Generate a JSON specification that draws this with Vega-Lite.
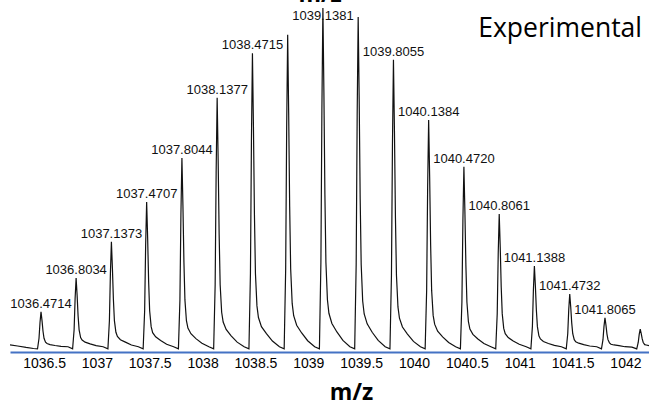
{
  "$schema": "https://vega.github.io/schema/vega-lite/v6.json",
  "width": 639,
  "height": 352,
  "autosize": {"type": "none"},
  "padding": {"left": 10, "top": 0, "right": 0, "bottom": 58},
  "background": "white",
  "config": {"view": {"stroke": null}},
  "datasets": {
    "spectrum": [
      {"mz": 1036.178, "i": 2.0}, {"mz": 1036.25, "i": 1.7}, {"mz": 1036.33, "i": 1.3}, {"mz": 1036.40, "i": 1.0},
      {"mz": 1036.4383, "i": 0.9}, {"mz": 1036.4525, "i": 3.9}, {"mz": 1036.4619, "i": 8.4}, {"mz": 1036.4714, "i": 11.4}, {"mz": 1036.4809, "i": 8.9}, {"mz": 1036.4903, "i": 5.9}, {"mz": 1036.4998, "i": 3.9}, {"mz": 1036.514, "i": 2.8}, {"mz": 1036.5282, "i": 2.4}, {"mz": 1036.5565, "i": 2.1}, {"mz": 1036.6038, "i": 1.85}, {"mz": 1036.6606, "i": 1.6}, {"mz": 1036.7268, "i": 1.5},
      {"mz": 1036.7703, "i": 0.9}, {"mz": 1036.7845, "i": 6.3}, {"mz": 1036.7939, "i": 15.1}, {"mz": 1036.8034, "i": 21.0}, {"mz": 1036.8129, "i": 16.1}, {"mz": 1036.8223, "i": 10.2}, {"mz": 1036.8318, "i": 6.3}, {"mz": 1036.846, "i": 4.1}, {"mz": 1036.8602, "i": 3.4}, {"mz": 1036.8885, "i": 2.8}, {"mz": 1036.9358, "i": 2.3}, {"mz": 1036.9926, "i": 1.8}, {"mz": 1037.0588, "i": 1.5},
      {"mz": 1037.1042, "i": 0.9}, {"mz": 1037.1184, "i": 8.9}, {"mz": 1037.1278, "i": 22.3}, {"mz": 1037.1373, "i": 31.3}, {"mz": 1037.1468, "i": 23.8}, {"mz": 1037.1562, "i": 14.9}, {"mz": 1037.1657, "i": 8.9}, {"mz": 1037.1799, "i": 5.6}, {"mz": 1037.1941, "i": 4.4}, {"mz": 1037.2224, "i": 3.5}, {"mz": 1037.2697, "i": 2.8}, {"mz": 1037.3265, "i": 2.0}, {"mz": 1037.3927, "i": 1.5},
      {"mz": 1037.4376, "i": 0.9}, {"mz": 1037.4518, "i": 11.7}, {"mz": 1037.4612, "i": 30.2}, {"mz": 1037.4707, "i": 42.6}, {"mz": 1037.4802, "i": 32.3}, {"mz": 1037.4896, "i": 19.9}, {"mz": 1037.4991, "i": 11.7}, {"mz": 1037.5133, "i": 7.2}, {"mz": 1037.5275, "i": 5.5}, {"mz": 1037.5558, "i": 4.3}, {"mz": 1037.6031, "i": 3.3}, {"mz": 1037.6599, "i": 2.2}, {"mz": 1037.7261, "i": 1.5},
      {"mz": 1037.7713, "i": 0.9}, {"mz": 1037.7855, "i": 14.8}, {"mz": 1037.7949, "i": 39.0}, {"mz": 1037.8044, "i": 55.1}, {"mz": 1037.8139, "i": 41.7}, {"mz": 1037.8233, "i": 25.6}, {"mz": 1037.8328, "i": 14.8}, {"mz": 1037.847, "i": 8.9}, {"mz": 1037.8612, "i": 6.8}, {"mz": 1037.8895, "i": 5.2}, {"mz": 1037.9368, "i": 3.8}, {"mz": 1037.9936, "i": 2.5}, {"mz": 1038.0598, "i": 1.5},
      {"mz": 1038.1046, "i": 0.9}, {"mz": 1038.1188, "i": 19.1}, {"mz": 1038.1282, "i": 51.0}, {"mz": 1038.1377, "i": 72.2}, {"mz": 1038.1472, "i": 54.5}, {"mz": 1038.1566, "i": 33.3}, {"mz": 1038.1661, "i": 19.1}, {"mz": 1038.1803, "i": 11.3}, {"mz": 1038.1945, "i": 8.5}, {"mz": 1038.2228, "i": 6.4}, {"mz": 1038.2701, "i": 4.6}, {"mz": 1038.3269, "i": 2.8}, {"mz": 1038.3931, "i": 1.5},
      {"mz": 1038.4384, "i": 0.9}, {"mz": 1038.4526, "i": 22.3}, {"mz": 1038.462, "i": 59.9}, {"mz": 1038.4715, "i": 84.9}, {"mz": 1038.481, "i": 64.0}, {"mz": 1038.4904, "i": 39.0}, {"mz": 1038.4999, "i": 22.3}, {"mz": 1038.5141, "i": 13.1}, {"mz": 1038.5283, "i": 9.8}, {"mz": 1038.5566, "i": 7.2}, {"mz": 1038.6039, "i": 5.2}, {"mz": 1038.6607, "i": 3.1}, {"mz": 1038.7269, "i": 1.5},
      {"mz": 1038.7717, "i": 0.9}, {"mz": 1038.7859, "i": 23.6}, {"mz": 1038.7953, "i": 63.5}, {"mz": 1038.8048, "i": 90.1}, {"mz": 1038.8143, "i": 67.9}, {"mz": 1038.8237, "i": 41.3}, {"mz": 1038.8332, "i": 23.6}, {"mz": 1038.8474, "i": 13.8}, {"mz": 1038.8616, "i": 10.3}, {"mz": 1038.8899, "i": 7.6}, {"mz": 1038.9372, "i": 5.4}, {"mz": 1038.994, "i": 3.2}, {"mz": 1039.0602, "i": 1.5},
      {"mz": 1039.105, "i": 0.9}, {"mz": 1039.1192, "i": 25.5}, {"mz": 1039.1286, "i": 68.8}, {"mz": 1039.1381, "i": 97.7}, {"mz": 1039.1476, "i": 73.6}, {"mz": 1039.157, "i": 44.7}, {"mz": 1039.1665, "i": 25.5}, {"mz": 1039.1807, "i": 14.9}, {"mz": 1039.1949, "i": 11.0}, {"mz": 1039.2232, "i": 8.1}, {"mz": 1039.2705, "i": 5.7}, {"mz": 1039.3273, "i": 3.3}, {"mz": 1039.3935, "i": 1.5},
      {"mz": 1039.4387, "i": 0.9}, {"mz": 1039.4529, "i": 24.9}, {"mz": 1039.4623, "i": 67.1}, {"mz": 1039.4718, "i": 95.2}, {"mz": 1039.4813, "i": 71.8}, {"mz": 1039.4907, "i": 43.6}, {"mz": 1039.5002, "i": 24.9}, {"mz": 1039.5144, "i": 14.5}, {"mz": 1039.5286, "i": 10.8}, {"mz": 1039.5569, "i": 8.0}, {"mz": 1039.6042, "i": 5.6}, {"mz": 1039.661, "i": 3.3}, {"mz": 1039.7272, "i": 1.5},
      {"mz": 1039.7724, "i": 0.9}, {"mz": 1039.7866, "i": 21.8}, {"mz": 1039.796, "i": 58.5}, {"mz": 1039.8055, "i": 83.0}, {"mz": 1039.815, "i": 62.6}, {"mz": 1039.8244, "i": 38.1}, {"mz": 1039.8339, "i": 21.8}, {"mz": 1039.8481, "i": 12.8}, {"mz": 1039.8623, "i": 9.6}, {"mz": 1039.8906, "i": 7.1}, {"mz": 1039.9379, "i": 5.1}, {"mz": 1039.9947, "i": 3.0}, {"mz": 1040.0609, "i": 1.5},
      {"mz": 1040.1053, "i": 0.9}, {"mz": 1040.1195, "i": 17.5}, {"mz": 1040.1289, "i": 46.6}, {"mz": 1040.1384, "i": 65.9}, {"mz": 1040.1479, "i": 49.8}, {"mz": 1040.1573, "i": 30.4}, {"mz": 1040.1668, "i": 17.5}, {"mz": 1040.181, "i": 10.4}, {"mz": 1040.1952, "i": 7.9}, {"mz": 1040.2235, "i": 5.9}, {"mz": 1040.2708, "i": 4.3}, {"mz": 1040.3276, "i": 2.7}, {"mz": 1040.3938, "i": 1.5},
      {"mz": 1040.4389, "i": 0.9}, {"mz": 1040.4531, "i": 14.2}, {"mz": 1040.4625, "i": 37.2}, {"mz": 1040.472, "i": 52.6}, {"mz": 1040.4815, "i": 39.8}, {"mz": 1040.4909, "i": 24.4}, {"mz": 1040.5004, "i": 14.2}, {"mz": 1040.5146, "i": 8.6}, {"mz": 1040.5288, "i": 6.5}, {"mz": 1040.5571, "i": 5.0}, {"mz": 1040.6044, "i": 3.7}, {"mz": 1040.6612, "i": 2.4}, {"mz": 1040.7274, "i": 1.5},
      {"mz": 1040.773, "i": 0.9}, {"mz": 1040.7872, "i": 10.9}, {"mz": 1040.7966, "i": 27.9}, {"mz": 1040.8061, "i": 39.2}, {"mz": 1040.8156, "i": 29.8}, {"mz": 1040.825, "i": 18.4}, {"mz": 1040.8345, "i": 10.9}, {"mz": 1040.8487, "i": 6.7}, {"mz": 1040.8629, "i": 5.2}, {"mz": 1040.8912, "i": 4.1}, {"mz": 1040.9385, "i": 3.1}, {"mz": 1040.9953, "i": 2.2}, {"mz": 1041.0615, "i": 1.5},
      {"mz": 1041.1057, "i": 0.9}, {"mz": 1041.1199, "i": 7.2}, {"mz": 1041.1293, "i": 17.5}, {"mz": 1041.1388, "i": 24.4}, {"mz": 1041.1483, "i": 18.7}, {"mz": 1041.1577, "i": 11.8}, {"mz": 1041.1672, "i": 7.2}, {"mz": 1041.1814, "i": 4.6}, {"mz": 1041.1956, "i": 3.7}, {"mz": 1041.2239, "i": 3.0}, {"mz": 1041.2712, "i": 2.4}, {"mz": 1041.328, "i": 1.9}, {"mz": 1041.3942, "i": 1.5},
      {"mz": 1041.4401, "i": 0.9}, {"mz": 1041.4543, "i": 5.2}, {"mz": 1041.4637, "i": 12.0}, {"mz": 1041.4732, "i": 16.5}, {"mz": 1041.4827, "i": 12.7}, {"mz": 1041.4921, "i": 8.2}, {"mz": 1041.5016, "i": 5.2}, {"mz": 1041.5158, "i": 3.5}, {"mz": 1041.53, "i": 2.9}, {"mz": 1041.5583, "i": 2.5}, {"mz": 1041.6056, "i": 2.1}, {"mz": 1041.6624, "i": 1.7}, {"mz": 1041.7286, "i": 1.5},
      {"mz": 1041.7734, "i": 0.9}, {"mz": 1041.7876, "i": 3.5}, {"mz": 1041.797, "i": 7.2}, {"mz": 1041.8065, "i": 9.7}, {"mz": 1041.816, "i": 7.6}, {"mz": 1041.8254, "i": 5.1}, {"mz": 1041.8349, "i": 3.5}, {"mz": 1041.8491, "i": 2.6}, {"mz": 1041.8633, "i": 2.2}, {"mz": 1041.8916, "i": 2.0}, {"mz": 1041.9389, "i": 1.8}, {"mz": 1041.9957, "i": 1.5}, {"mz": 1042.0619, "i": 1.4},
      {"mz": 1042.1069, "i": 0.9}, {"mz": 1042.1211, "i": 2.7}, {"mz": 1042.1305, "i": 5.0}, {"mz": 1042.14, "i": 6.5}, {"mz": 1042.1495, "i": 5.2}, {"mz": 1042.1589, "i": 3.7}, {"mz": 1042.1684, "i": 2.7}, {"mz": 1042.1826, "i": 2.1}, {"mz": 1042.1968, "i": 2.0}, {"mz": 1042.2251, "i": 1.8}
    ],
    "labels": [
      {"mz": 1036.4714, "h": 11.4, "label": "1036.4714"},
      {"mz": 1036.8034, "h": 21.0, "label": "1036.8034"},
      {"mz": 1037.1373, "h": 31.3, "label": "1037.1373"},
      {"mz": 1037.4707, "h": 42.6, "label": "1037.4707"},
      {"mz": 1037.8044, "h": 55.1, "label": "1037.8044"},
      {"mz": 1038.1377, "h": 72.2, "label": "1038.1377"},
      {"mz": 1038.4715, "h": 84.9, "label": "1038.4715"},
      {"mz": 1039.1381, "h": 93.2, "label": "1039.1381"},
      {"mz": 1039.8055, "h": 83.0, "label": "1039.8055"},
      {"mz": 1040.1384, "h": 65.9, "label": "1040.1384"},
      {"mz": 1040.472, "h": 52.6, "label": "1040.4720"},
      {"mz": 1040.8061, "h": 39.2, "label": "1040.8061"},
      {"mz": 1041.1388, "h": 24.4, "label": "1041.1388"},
      {"mz": 1041.4732, "h": 16.5, "label": "1041.4732"},
      {"mz": 1041.8065, "h": 9.7, "label": "1041.8065"}
    ]
  },
  "layer": [
    {
      "data": {"name": "spectrum"},
      "mark": {"type": "line", "color": "#111111", "strokeWidth": 1.2, "clip": true, "interpolate": "linear"},
      "encoding": {
        "x": {"field": "mz", "type": "quantitative", "scale": {"domain": [1036.178, 1042.223], "nice": false, "zero": false},
          "axis": {"values": [1036.5, 1037, 1037.5, 1038, 1038.5, 1039, 1039.5, 1040, 1040.5, 1041, 1041.5, 1042], "format": ".1~f", "grid": false, "ticks": false, "domainColor": "#4472C4", "domainWidth": 2, "labelFont": "Liberation Sans", "labelFontSize": 14, "labelColor": "#000", "labelPadding": 4, "labelFlush": false, "labelOverlap": false, "title": "m/z", "titleFont": "Open Sans", "titleFontSize": 23, "titleFontWeight": "bold", "titleColor": "#000", "titleX": 341, "titleY": 40, "titleAlign": "center", "titleBaseline": "middle"}},
        "y": {"field": "i", "type": "quantitative", "scale": {"domain": [0, 100], "nice": false, "zero": false}, "axis": null}
      }
    },
    {
      "data": {"name": "labels"},
      "mark": {"type": "text", "font": "Liberation Sans", "fontSize": 13, "color": "#111111", "align": "center", "baseline": "alphabetic", "dy": -4},
      "encoding": {
        "x": {"field": "mz", "type": "quantitative"},
        "y": {"field": "h", "type": "quantitative"},
        "text": {"field": "label", "type": "nominal"}
      }
    },
    {
      "data": {"values": [{"mz": 1042.157, "h": 89.5, "t": "Experimental"}]},
      "mark": {"type": "text", "font": "Open Sans", "fontSize": 26.5, "color": "#000", "align": "right", "baseline": "alphabetic"},
      "encoding": {
        "x": {"field": "mz", "type": "quantitative"},
        "y": {"field": "h", "type": "quantitative"},
        "text": {"field": "t", "type": "nominal"}
      }
    },
    {
      "data": {"values": [{"mz": 1039.111, "h": 99.4, "t": "m/z"}]},
      "mark": {"type": "text", "font": "Open Sans", "fontSize": 23, "fontWeight": "bold", "color": "#000", "align": "center", "baseline": "alphabetic"},
      "encoding": {
        "x": {"field": "mz", "type": "quantitative"},
        "y": {"field": "h", "type": "quantitative"},
        "text": {"field": "t", "type": "nominal"}
      }
    }
  ]
}
